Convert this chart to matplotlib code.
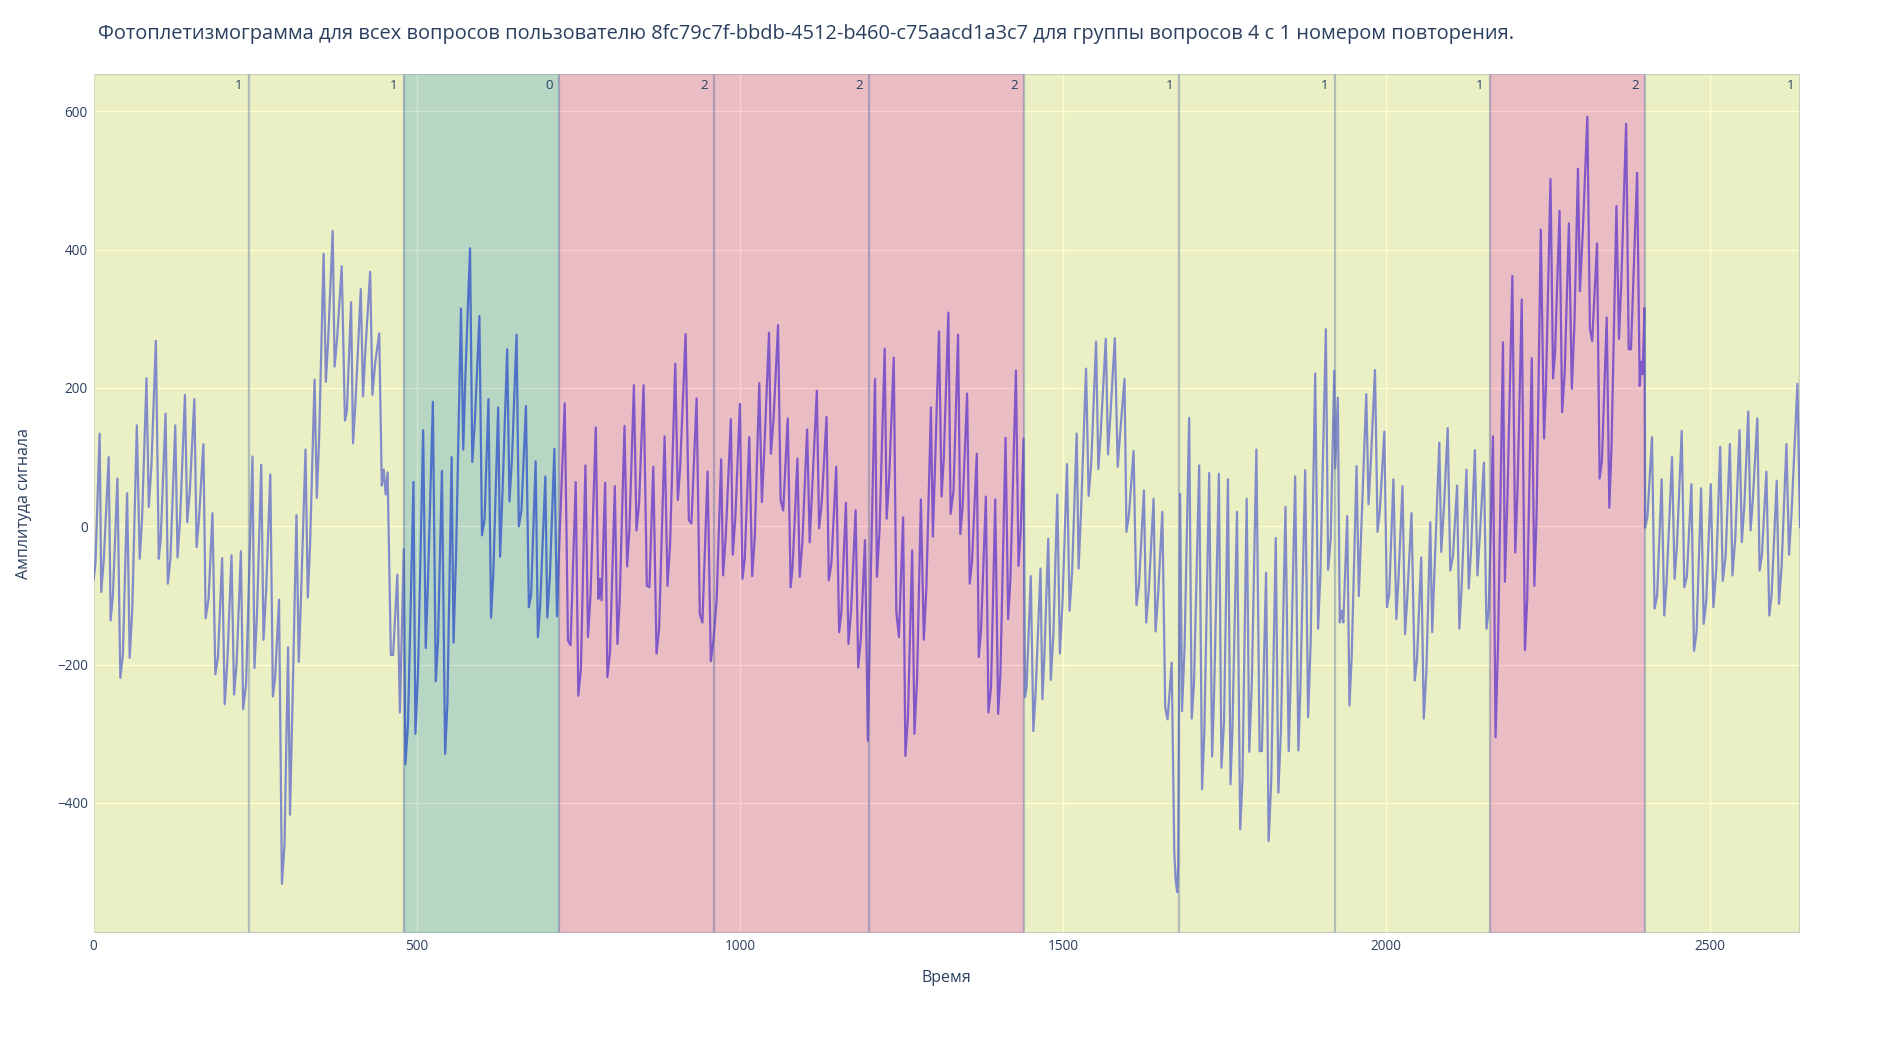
import matplotlib
matplotlib.use('Agg')
import matplotlib.pyplot as plt
import matplotlib.colors as mcolors

plt.rcParams['font.family'] = ['Open Sans', 'DejaVu Sans']

# опорные точки сигнала (время, амплитуда)
time_pts = [
    0, 3, 9.5, 12, 16, 23.5, 26.5, 30, 37, 41.5, 45.5, 52, 56, 60, 67, 71.5, 75, 82, 85.5, 89.5,
    96.5, 101, 104, 111.5, 115, 119, 126.5, 130, 134, 141.5, 145, 149, 156, 159.5, 163, 170, 173.5,
    178, 184, 188.5, 192.5, 199, 203, 207, 213.5, 217.5, 221.5, 228, 231.5, 236,
    246, 249, 253, 259.5, 263, 267, 273.5, 277.5, 281, 287, 291.5, 295.5, 301, 304, 308, 314, 317.5,
    321, 328, 331.5, 335, 342, 345.5, 349, 356, 359.5, 363, 370, 373, 377, 384, 389, 392, 398.5,
    401.5, 405.5, 413.5, 417, 420.5, 428, 431.5, 435.5, 442, 446, 449, 452, 455, 460, 463.5, 470,
    474, 480,
    482.5, 486.5, 495, 498, 502, 510, 514, 517.5, 525, 529.5, 533, 539, 544, 547.5, 554, 557, 561,
    568.5, 572, 575.5, 582.5, 586, 590, 597, 601, 605, 611, 615, 618.5, 626, 629, 633, 640, 643.5,
    647.5, 654.5, 658, 662, 669, 673.5, 677, 684, 687.5, 691, 699, 702, 706, 713, 717, 720.5,
    729, 734, 738, 746, 750, 754, 761, 765, 769, 777, 781, 783.5, 786, 791.5, 795, 799, 806.5,
    810.5, 814, 821.5, 825.5, 829, 836, 840, 844, 851, 856, 860, 866, 871, 875, 883.5, 888, 892,
    900, 904, 907.5, 916, 921, 925, 933, 938, 942, 950, 955, 959,
    964, 971, 974, 978, 986, 989, 993, 1000, 1004, 1007.5, 1014.5, 1019, 1023, 1030, 1034, 1037.5,
    1045, 1048, 1052, 1059, 1063, 1067, 1074, 1078.5, 1081.5, 1089, 1092.5, 1096.5, 1104, 1108,
    1111, 1119, 1122.5, 1126.5, 1134, 1137.5, 1141.5, 1149, 1153.5, 1157, 1164, 1168, 1172, 1179,
    1183, 1187, 1193.5, 1198, 1202.5,
    1209, 1212, 1216, 1224, 1227, 1231, 1238, 1242, 1246, 1252.5, 1256, 1260, 1266.5, 1270, 1274,
    1280, 1284.5, 1288.5, 1295.5, 1298.5, 1301.5, 1308, 1312, 1315.5, 1322.5, 1326, 1330.5, 1337.5,
    1341, 1344.5, 1351.5, 1355.5, 1359, 1366.5, 1369.5, 1373, 1380.5, 1384.5, 1388.5, 1395, 1399.5,
    1403, 1411, 1415, 1418.5, 1427, 1431, 1434.5, 1439, 1441,
    1443.5, 1450, 1454, 1457.5, 1465, 1468, 1471, 1477, 1481, 1485, 1491, 1495, 1499, 1506, 1510,
    1514, 1521, 1524, 1528, 1535.5, 1539.5, 1543.5, 1551, 1554.5, 1558, 1566, 1569.5, 1573, 1580,
    1584.5, 1588, 1595, 1598, 1602, 1609, 1613.5, 1617.5, 1625, 1628.5, 1632.5, 1640, 1643, 1647,
    1653.5, 1658, 1661.5, 1664, 1668, 1672, 1674, 1676.5, 1678, 1681,
    1684, 1688, 1695, 1699, 1702.5, 1710.5, 1715, 1718.5, 1726, 1730.5, 1733.5, 1741, 1745, 1749,
    1755, 1759, 1762, 1769, 1774, 1777.5, 1784, 1788, 1792, 1799, 1804, 1807.5, 1814, 1818, 1822,
    1829, 1833, 1837, 1844, 1849, 1852, 1859, 1864, 1867, 1874.5, 1879, 1883, 1890, 1894.5, 1898,
    1906.5, 1910, 1914, 1919.5, 1921, 1925, 1928,
    1931, 1933.5, 1939.5, 1943, 1946.5, 1954, 1957.5, 1961, 1969, 1972.5, 1976, 1982.5, 1986.5, 1990,
    1997, 2001, 2004.5, 2011, 2015.5, 2019, 2025, 2029, 2032.5, 2039, 2044, 2047.5, 2054, 2058, 2062,
    2068, 2071, 2075, 2082, 2085, 2089.5, 2095, 2099, 2103, 2109.5, 2113, 2116.5, 2124, 2127.5,
    2131.5, 2137, 2141, 2145, 2151, 2155, 2158.5,
    2165, 2169, 2173, 2180.5, 2183.5, 2187.5, 2195, 2199.5, 2203, 2209.5, 2214.5, 2218, 2225, 2229,
    2232.5, 2239, 2244, 2247, 2254, 2258, 2261, 2268, 2272, 2276, 2282.5, 2287, 2291, 2296.5, 2299.5,
    2304, 2311, 2315, 2318.5, 2326, 2330, 2333.5, 2341, 2345, 2348.5, 2356, 2360, 2363.5, 2371, 2375,
    2378.5, 2388, 2392, 2394.5, 2396.5, 2399.5, 2400.5,
    2404, 2411, 2415, 2419, 2426, 2430, 2433.5, 2442, 2446, 2449.5, 2457, 2461, 2465, 2472, 2476,
    2480, 2487, 2491, 2495, 2502, 2506, 2510.5, 2516.5, 2520.5, 2525, 2531.5, 2535.5, 2540, 2546.5,
    2550, 2554, 2560, 2563.5, 2567, 2574, 2577.5, 2581, 2588, 2592.5, 2596, 2604, 2607.5, 2611.5,
    2619, 2623, 2627, 2636, 2640,
]
ampl_pts = [
    -78, -54, 134, -95, -47, 100, -136, -100, 69, -219, -185, 48, -190, -120, 146, -47, 8, 214, 28, 86,
    268, -47, -18, 163, -83, -47, 146, -45, 11, 190, 6, 51, 184, -30, 8, 119, -133,
    -105, 19, -214, -190, -46, -257, -197, -42, -243, -197, -36, -264, -228,
    101, -205, -125, 89, -164, -94, 75, -246, -218, -106, -517, -460, -175, -417, -250, 16, -196,
    -103, 111, -103, -27, 212, 41, 126, 394, 209, 269, 427, 231, 273, 376, 153, 167, 324,
    120, 183, 343, 188, 253, 368, 190, 234, 279, 59, 82, 46, 78, -186, -186, -70,
    -269, -33,
    -344, -287, 64, -300, -212, 139, -176, -78, 180, -224, -166, 80, -329, -256, 100, -168, -37,
    315, 111, 222, 402, 93, 152, 304, -13, 10, 184, -132, -68, 172, -44, 56, 256, 36,
    100, 277, 0, 23, 174, -117, -99, 94, -160, -114, 72, -132, -73, 112, -130, -28,
    178, -165, -172, 64, -245, -206, 88, -160, -98, 143, -105, -76, -107, 63, -218, -182, 58,
    -170, -107, 145, -58, -6, 204, -6, 33, 204, -86, -88, 86, -184, -148, 130, -86, -25,
    235, 38, 84, 278, 9, 4, 185, -127, -139, 79, -195, -165,
    -107, 97, -71, -16, 155, -41, 14, 177, -76, -47, 129, -72, -15, 207, 35, 105,
    280, 105, 154, 291, 38, 23, 156, -88, -59, 98, -73, -25, 140, -23,
    38, 196, -3, 33, 158, -78, -54, 86, -153, -124, 34, -170, -122, 23,
    -204, -163, -20, -310, -69,
    213, -73, -6, 257, 11, 71, 244, -124, -160, 13, -332, -276, -35, -300, -223,
    39, -164, -88, 172, -15, 76, 282, 43, 100, 309, 18, 52, 277,
    -11, 28, 192, -83, -52, 105, -189, -151, 43, -269, -233, 39, -271,
    -214, 128, -134, -76, 225, -57, -6, 127, -247,
    -233, -72, -296, -240, -61, -250, -189, -18, -222, -156, 46, -184, -112, 90, -122,
    -64, 134, -61, 28, 228, 44, 91, 267, 83, 132, 271, 104, 158, 272,
    86, 132, 213, -8, 18, 109, -114, -83, 52, -139, -93, 40, -152, -98,
    21, -262, -279, -250, -197, -470, -510, -529, -490, 47,
    -267, -172, 157, -278, -227, 88, -380, -297, 77, -333, -246, 76, -349, -281,
    68, -373, -292, 21, -438, -365, 40, -326, -224, 111, -325, -325, -67, -455, -368,
    -17, -385, -295, 28, -325, -224, 72, -324, -237, 81, -276, -167, 221, -148, -69,
    285, -63, -17, 225, 84, 186, -139,
    -122, -139, 15, -259, -187, 87, -101, -13, 191, 32, 93, 226, -8, 23,
    137, -117, -98, 68, -134, -73, 58, -156, -102, 19, -223, -192, -45, -278, -209,
    6, -153, -52, 121, -37, 33, 142, -64, -44, 59, -148, -88, 82, -90,
    -28, 110, -71, -8, 92, -148, -119,
    130, -305, -164, 266, -80, 46, 362, -38, 52, 328, -179, -104, 243, -86,
    16, 429, 127, 202, 502, 214, 250, 456, 165, 223, 438, 199, 292, 517, 340,
    426, 592, 286, 268, 409, 69, 94, 302, 27, 118, 463, 271, 352, 582, 256,
    256, 511, 203, 238, 220, 316, -2,
    14, 129, -119, -100, 68, -129, -83, 100, -76, -30, 138, -88, -73, 61, -180,
    -153, 55, -141, -107, 61, -117, -61, 115, -79, -42, 119, -71, -15, 139,
    -23, 33, 166, -6, 38, 156, -64, -42, 79, -129, -100, 66, -112, -59,
    119, -41, 21, 206, -1,
]

# границы вопросов и метки
bounds = [0, 240, 480, 720, 960, 1200, 1440, 1680, 1920, 2160, 2400, 2640]
labels = [1, 1, 0, 2, 2, 2, 1, 1, 1, 2, 1]
label_colors = {0: 'green', 1: 'yellow', 2: 'red'}

fig = plt.figure(figsize=(18.8, 10.44), dpi=100)
ax = fig.add_axes([93.5 / 1880, 1 - 933 / 1044, (1800 - 93.5) / 1880, (933 - 74) / 1044])
ax.set_facecolor('#E5ECF6')

ax.plot(time_pts, ampl_pts, color='#636efa', lw=1.6, zorder=2)

for i, lab in enumerate(labels):
    ax.axvspan(bounds[i], bounds[i + 1], facecolor=mcolors.to_rgba(label_colors[lab], 0.2),
               edgecolor=(0.30, 0.42, 0.66, 0.22), lw=1.6, zorder=3)
    ax.annotate(str(lab), xy=(bounds[i + 1], 1), xycoords=('data', 'axes fraction'),
                xytext=(-6, -5), textcoords='offset pixels', ha='right', va='top',
                fontsize=9.5, color='#2a3f5f', zorder=4)

ax.set_xlim(0, 2640)
ax.set_ylim(-588, 654)
ax.set_xticks([0, 500, 1000, 1500, 2000, 2500])
ax.set_yticks([-400, -200, 0, 200, 400, 600])
ax.grid(True, color='white', lw=1)
ax.set_axisbelow(True)
for s in ax.spines.values():
    s.set_visible(False)
ax.tick_params(length=0, labelsize=9.8, labelcolor='#2a3f5f', pad=4)

ax.set_xlabel('Время', fontsize=11.5, color='#2a3f5f', labelpad=12)
ax.set_ylabel('Амплитуда сигнала', fontsize=11.5, color='#2a3f5f')
ax.yaxis.set_label_coords(-0.036, 0.5)

fig.text(98 / 1880, 1 - 34 / 1044,
         'Фотоплетизмограмма для всех вопросов пользователю 8fc79c7f-bbdb-4512-b460-c75aacd1a3c7 '
         'для группы вопросов 4 с 1 номером повторения.',
         fontsize=14.4, color='#2a3f5f', ha='left', va='center')

fig.savefig('out.png', dpi=100)
